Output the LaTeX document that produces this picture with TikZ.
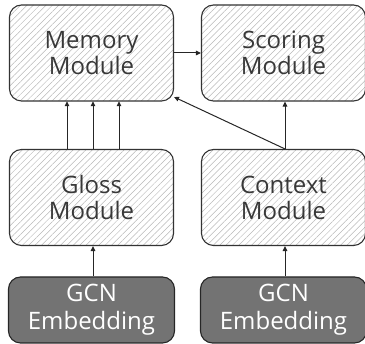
\documentclass[tikz,border=0pt]{standalone}
\usepackage{fontspec}
\setmainfont{Open Sans}
\usetikzlibrary{patterns.meta,arrows.meta}
\begin{document}
\begin{tikzpicture}[x=1pt,y=-1pt,
  modbox/.style={draw=black!80, line width=1.1pt, rounded corners=12pt,
    pattern={Lines[angle=45,distance=4.5pt,line width=0.5pt]}, pattern color=black!28,
    minimum width=164pt, minimum height=96pt, align=center, inner sep=0pt,
    font=\fontsize{24}{26}\selectfont, text=black!78},
  embox/.style={draw=black!85, line width=1.1pt, rounded corners=12pt, fill=black!55,
    minimum width=166pt, minimum height=66pt, align=center, inner sep=0pt,
    font=\fontsize{24}{28}\selectfont, text=white},
  arr/.style={-{Triangle[length=5pt,width=4.5pt]}, line width=1pt, black!85}]
\useasboundingbox (0,0) rectangle (365,344);
\node[modbox] (mem) at (91.5,53) {Memory\\Module};
\node[modbox] (sco) at (283.5,53) {Scoring\\Module};
\node[modbox] (glo) at (91.5,197.5) {Gloss\\Module};
\node[modbox] (ctx) at (283.5,197.5) {Context\\Module};
\node[embox] (g1) at (91.5,310) {GCN\\Embedding};
\node[embox] (g2) at (283.5,310) {GCN\\Embedding};
\draw[arr] (mem.east) -- (sco.west);
\draw[arr] (glo.north -| 67,0) -- (mem.south -| 67,0);
\draw[arr] (glo.north -| 93,0) -- (mem.south -| 93,0);
\draw[arr] (glo.north -| 119,0) -- (mem.south -| 119,0);
\draw[arr] (ctx.north -| 285,0) -- (sco.south -| 285,0);
\coordinate (mc) at (174,97);
\draw[arr] (ctx.north -| 285,0) -- (mc);
\draw[arr] (g1.north -| 93,0) -- (glo.south -| 93,0);
\draw[arr] (g2.north -| 285,0) -- (ctx.south -| 285,0);
\end{tikzpicture}
\end{document}
